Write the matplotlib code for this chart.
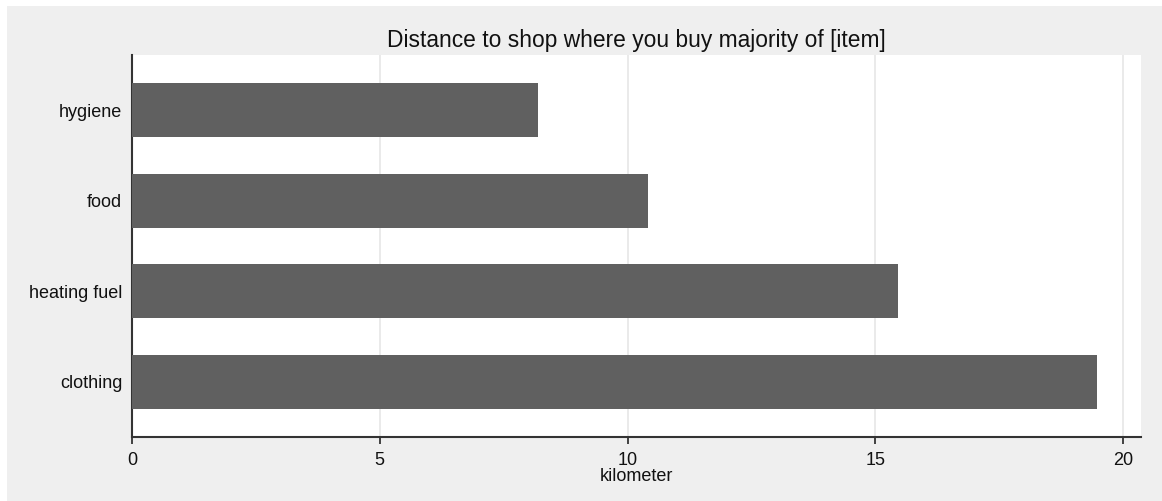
import matplotlib
matplotlib.use("Agg")
import matplotlib.pyplot as plt
from matplotlib.patches import Rectangle

categories = ["clothing", "heating fuel", "food", "hygiene"]
values = [19.47, 15.46, 10.41, 8.19]
xticks = [0, 5, 10, 15, 20]
title = "Distance to shop where you buy majority of [item]"
xlabel = "kilometer"

plt.rcParams["font.family"] = ["Liberation Sans", "DejaVu Sans"]

W, H = 1162, 501
fig = plt.figure(figsize=(W / 100, H / 100), dpi=100, facecolor="white")
fig.patches.append(Rectangle((7 / W, 0), 1 - 7 / W, 1 - 6 / H, transform=fig.transFigure,
                             facecolor="#efefef", edgecolor="none", zorder=-10))

ax = fig.add_axes([132 / W, 1 - 437 / H, (1141 - 132) / W, (437 - 55) / H])
ax.set_facecolor("white")
ypos = list(range(len(categories)))
ax.barh(ypos, values, height=0.6, color="#606060", zorder=3)
ax.set_yticks(ypos)
ax.set_yticklabels(categories, fontsize=13, color="#111111")
ax.set_xticks(xticks)
ax.set_xticklabels([str(t) for t in xticks], fontsize=13, color="#111111")
ax.set_xlim(0, 20.36)
ax.set_ylim(-0.61, 3.61)
for t in xticks[1:]:
    ax.axvline(t, color="#e6e6e6", lw=1.2, zorder=1)
for s in ["top", "right"]:
    ax.spines[s].set_visible(False)
for s in ["left", "bottom"]:
    ax.spines[s].set_color("#333333")
    ax.spines[s].set_linewidth(1.5)
ax.tick_params(axis="y", length=0, pad=7)
ax.tick_params(axis="x", length=5, width=1.3, color="#333333", pad=6)
ax.set_xlabel(xlabel, fontsize=13, color="#111111", labelpad=-1)
ax.set_title(title, fontsize=16.4, color="#111111", pad=6)
fig.savefig("out.png", dpi=100, facecolor=fig.get_facecolor())
